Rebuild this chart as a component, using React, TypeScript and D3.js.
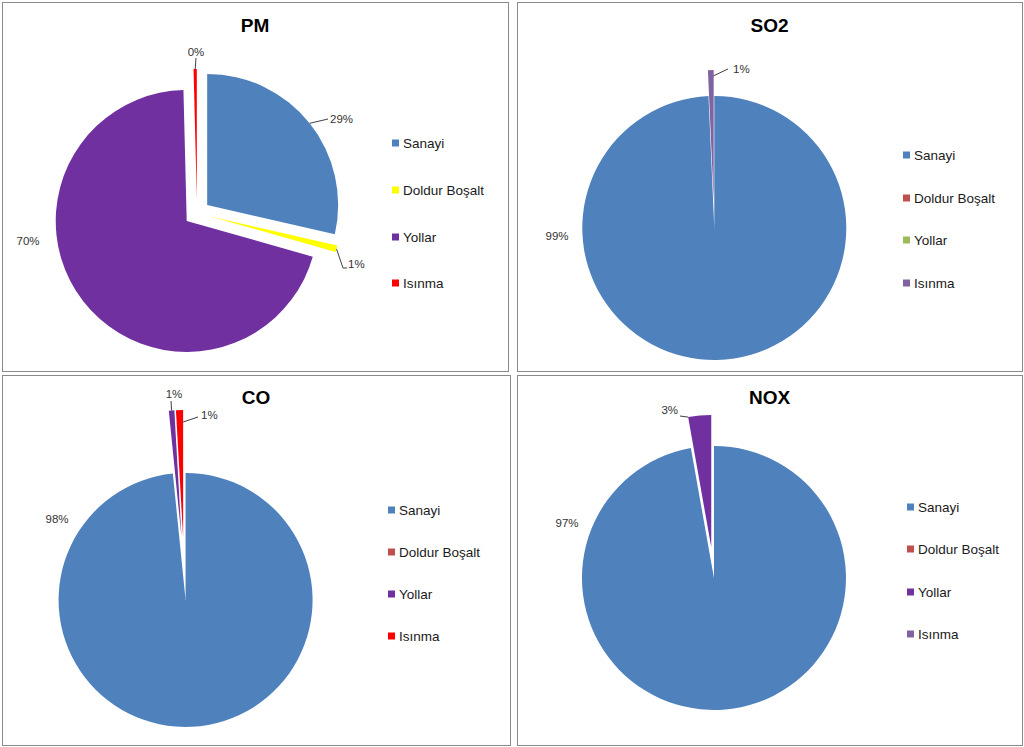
import React from "react";
import * as d3 from "d3";

// ---- data ----
const categories = ["Sanayi", "Doldur Boşalt", "Yollar", "Isınma"];
const chartTitles = ["PM", "SO2", "CO", "NOX"];
const pmValues = [28.6, 0.8, 70.2, 0.4];
const so2Values = [99.3, 0, 0, 0.7];
const coValues = [98.4, 0, 0.7, 0.9];
const noxValues = [97.2, 0, 2.8, 0];
const pmColors = ["#4F81BD", "#FFFF00", "#7030A0", "#FF0000"];
const so2Colors = ["#4F81BD", "#C0504D", "#9BBB59", "#8064A2"];
const coColors = ["#4F81BD", "#C0504D", "#7030A0", "#FF0000"];
const noxColors = ["#4F81BD", "#C0504D", "#7030A0", "#8064A2"];

type LabelCfg = {
  idx: number;
  x: number;
  y: number;
  anchor: "start" | "middle" | "end";
  leader?: [number, number][];
  startFrac?: number;
  startR?: number;
};

type PanelCfg = {
  title: string;
  values: number[];
  colors: string[];
  box: [number, number, number, number];
  titleY: number;
  center: [number, number];
  r: number;
  explode: number;
  legendX: number;
  legendY: number[];
  labels: LabelCfg[];
};

const panels: PanelCfg[] = [
  {
    title: chartTitles[0],
    values: pmValues,
    colors: pmColors,
    box: [2, 2, 506, 369],
    titleY: 25,
    center: [197, 213],
    r: 131,
    explode: 13,
    legendX: 392,
    legendY: [143, 190, 237, 283],
    labels: [
      { idx: 0, x: 330, y: 119, anchor: "start", leader: [[328, 119]] },
      { idx: 1, x: 348, y: 264, anchor: "start", leader: [[343, 268], [347, 268]] },
      { idx: 3, x: 196, y: 52, anchor: "middle", leader: [[196, 58]] },
      { idx: 2, x: 28, y: 241, anchor: "middle" },
    ],
  },
  {
    title: chartTitles[1],
    values: so2Values,
    colors: so2Colors,
    box: [517, 2, 505, 369],
    titleY: 25,
    center: [714, 215],
    r: 132,
    explode: 13,
    legendX: 903,
    legendY: [155, 198, 240, 283],
    labels: [
      { idx: 0, x: 557, y: 236, anchor: "middle" },
      { idx: 3, x: 733, y: 69, anchor: "start", leader: [[728, 69]], startR: 125 },
    ],
  },
  {
    title: chartTitles[2],
    values: coValues,
    colors: coColors,
    box: [2, 375, 508, 370],
    titleY: 397,
    center: [184, 568.5],
    r: 127,
    explode: 31.5,
    legendX: 388,
    legendY: [510, 552, 594, 636],
    labels: [
      { idx: 0, x: 57, y: 519, anchor: "middle" },
      { idx: 2, x: 174, y: 394, anchor: "middle", leader: [[171, 401]] },
      { idx: 3, x: 201, y: 415, anchor: "start", leader: [[198, 417]], startFrac: 1, startR: 115 },
    ],
  },
  {
    title: chartTitles[3],
    values: noxValues,
    colors: noxColors,
    box: [517, 375, 505, 370],
    titleY: 397,
    center: [712.6, 562.5],
    r: 132,
    explode: 15.5,
    legendX: 907,
    legendY: [507, 549, 592, 634],
    labels: [
      { idx: 0, x: 567, y: 523, anchor: "middle" },
      { idx: 2, x: 678, y: 410, anchor: "end", leader: [[680, 416]], startFrac: 0 },
    ],
  },
];

const FONT = "'Liberation Sans', Arial, sans-serif";

function Panel({ cfg }: { cfg: PanelCfg }) {
  const pie = d3
    .pie<number>()
    .sort(null)
    .value((d) => d)
    .startAngle(0)
    .endAngle(2 * Math.PI);
  const arcs = pie(cfg.values);
  const arc = d3.arc<d3.PieArcDatum<number>>().innerRadius(0).outerRadius(cfg.r);
  const total = d3.sum(cfg.values);
  const [cx, cy] = cfg.center;

  const offset = (a: d3.PieArcDatum<number>) => {
    const mid = (a.startAngle + a.endAngle) / 2;
    return [cx + cfg.explode * Math.sin(mid), cy - cfg.explode * Math.cos(mid)];
  };

  const [bx, by, bw, bh] = cfg.box;

  return (
    <g>
      <rect x={bx + 0.5} y={by + 0.5} width={bw} height={bh} fill="#fff" stroke="#8a8a8a" strokeWidth={1} />
      <text
        x={bx + bw / 2}
        y={cfg.titleY}
        textAnchor="middle"
        dominantBaseline="central"
        fontFamily={FONT}
        fontWeight="bold"
        fontSize={19}
        fill="#000"
      >
        {cfg.title}
      </text>
      {/* leader lines */}
      {cfg.labels
        .filter((l) => l.leader)
        .map((l, i) => {
          const a = arcs[l.idx];
          const [ox, oy] = offset(a);
          const frac = l.startFrac ?? 0.5;
          const ang = a.startAngle + (a.endAngle - a.startAngle) * frac;
          const rr = l.startR ?? cfg.r;
          const pts: [number, number][] = [[ox + rr * Math.sin(ang), oy - rr * Math.cos(ang)], ...(l.leader as [number, number][])];
          return <path key={"ld" + i} d={d3.line()(pts) || ""} fill="none" stroke="#404040" strokeWidth={1} />;
        })}
      {/* slices */}
      {arcs.map((a, i) => {
        if (a.endAngle - a.startAngle <= 0) return null;
        const [ox, oy] = offset(a);
        return <path key={"s" + i} d={arc(a) || ""} transform={`translate(${ox},${oy})`} fill={cfg.colors[i]} />;
      })}
      {/* labels */}
      {cfg.labels.map((l, i) => (
        <text
          key={"lb" + i}
          x={l.x}
          y={l.y}
          textAnchor={l.anchor}
          dominantBaseline="central"
          fontFamily={FONT}
          fontSize={11.5}
          fill="#333333"
        >
          {Math.round((cfg.values[l.idx] / total) * 100) + "%"}
        </text>
      ))}
      {/* legend */}
      {categories.map((c, i) => (
        <g key={"lg" + i}>
          <rect x={cfg.legendX} y={cfg.legendY[i] - 3.5} width={7} height={7} fill={cfg.colors[i]} />
          <text
            x={cfg.legendX + 11}
            y={cfg.legendY[i]}
            dominantBaseline="central"
            fontFamily={FONT}
            fontSize={13.5}
            fill="#1a1a1a"
          >
            {c}
          </text>
        </g>
      ))}
    </g>
  );
}

export default function App() {
  return (
    <svg
      width={1024}
      height={747}
      style={{ position: "absolute", left: 0, top: 0, background: "#fff" }}
    >
      <rect x={0} y={0} width={1024} height={747} fill="#fff" />
      {panels.map((p, i) => (
        <Panel key={i} cfg={p} />
      ))}
    </svg>
  );
}
